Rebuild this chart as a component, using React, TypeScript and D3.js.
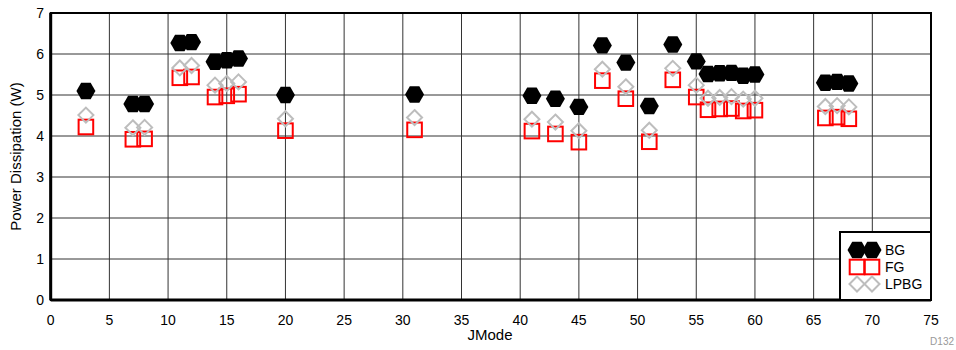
import React from "react";
import * as d3 from "d3";

const jmodes = [3, 7, 8, 11, 12, 14, 15, 16, 20, 31, 41, 43, 45, 47, 49, 51, 53, 55, 56, 57, 58, 59, 60, 66, 67, 68];
const bgValues = [5.1, 4.78, 4.78, 6.27, 6.29, 5.81, 5.85, 5.89, 5.0, 5.01, 4.98, 4.91, 4.71, 6.21, 5.79, 4.73, 6.23, 5.82, 5.51, 5.53, 5.54, 5.47, 5.5, 5.3, 5.32, 5.28];
const fgValues = [4.22, 3.92, 3.93, 5.42, 5.44, 4.95, 4.98, 5.02, 4.13, 4.15, 4.12, 4.05, 3.85, 5.35, 4.91, 3.86, 5.37, 4.95, 4.64, 4.66, 4.67, 4.61, 4.63, 4.44, 4.46, 4.42];
const lpbgValues = [4.51, 4.2, 4.21, 5.66, 5.72, 5.24, 5.28, 5.32, 4.42, 4.45, 4.41, 4.34, 4.13, 5.63, 5.2, 4.14, 5.65, 5.24, 4.92, 4.94, 4.96, 4.9, 4.92, 4.72, 4.74, 4.71];
const xTicks = [0, 5, 10, 15, 20, 25, 30, 35, 40, 45, 50, 55, 60, 65, 70, 75];
const yTicks = [0, 1, 2, 3, 4, 5, 6, 7];

const W = 956, H = 350;
const L = 50.7, R = 931, T = 13, B = 300;
const font = "'Liberation Sans', Arial, sans-serif";

const x = d3.scaleLinear().domain([0, 75]).range([L, R]);
const y = d3.scaleLinear().domain([0, 7]).range([B, T]);

const hexPath = (r: number) => {
  const pts = d3.range(6).map((i) => {
    const a = (Math.PI / 3) * i;
    return [r * Math.cos(a), r * Math.sin(a)];
  });
  return d3.line()(pts as [number, number][]) + "Z";
};
const HEX = hexPath(9.5);
const SQ = 7.3;
const DI = 7.5;
const diamondPath = `M0,${-DI}L${DI},0L0,${DI}L${-DI},0Z`;

const Hex = ({ cx, cy }: { cx: number; cy: number }) => (
  <path d={HEX} transform={`translate(${cx},${cy})`} fill="#000" />
);
const Sq = ({ cx, cy }: { cx: number; cy: number }) => (
  <rect x={cx - SQ} y={cy - SQ} width={SQ * 2} height={SQ * 2} fill="none" stroke="#ff0000" strokeWidth={2} />
);
const Di = ({ cx, cy }: { cx: number; cy: number }) => (
  <path d={diamondPath} transform={`translate(${cx},${cy})`} fill="none" stroke="#bdbdbd" strokeWidth={2} />
);

export default function App() {
  const lx = 840, ly = 232, lw = 91, lh = 68;
  const rows = [250, 267, 284];
  return (
    <svg width={W} height={H} style={{ position: "absolute", left: 0, top: 0, background: "#fff" }} fontFamily={font}>
      {xTicks.map((t) => (
        <line key={"gx" + t} x1={x(t)} x2={x(t)} y1={T} y2={B} stroke="#333" strokeWidth={1} />
      ))}
      {yTicks.map((t) => (
        <line key={"gy" + t} x1={L} x2={R} y1={y(t)} y2={y(t)} stroke="#333" strokeWidth={1} />
      ))}
      {jmodes.map((j, i) => (
        <Hex key={"bg" + i} cx={x(j)} cy={y(bgValues[i])} />
      ))}
      {jmodes.map((j, i) => (
        <Sq key={"fg" + i} cx={x(j)} cy={y(fgValues[i])} />
      ))}
      {jmodes.map((j, i) => (
        <Di key={"lp" + i} cx={x(j)} cy={y(lpbgValues[i])} />
      ))}
      <rect x={L} y={T} width={R - L} height={B - T} fill="none" stroke="#000" strokeWidth={2} />
      <line x1={L} x2={L} y1={T} y2={B} stroke="#000" strokeWidth={3} />
      <line x1={L} x2={R} y1={B} y2={B} stroke="#000" strokeWidth={3} />
      {yTicks.map((t) => (
        <text key={"ty" + t} x={44} y={y(t) + 5} textAnchor="end" fontSize={14} fill="#000">{t}</text>
      ))}
      {xTicks.map((t) => (
        <text key={"tx" + t} x={x(t)} y={325} textAnchor="middle" fontSize={14} fill="#000">{t}</text>
      ))}
      <text x={490} y={340} textAnchor="middle" fontSize={15} fill="#000">JMode</text>
      <text transform={`translate(21,${(T + B) / 2}) rotate(-90)`} textAnchor="middle" fontSize={15} fill="#000">Power Dissipation (W)</text>
      <text x={954} y={345} textAnchor="end" fontSize={10} fill="#999">D132</text>
      <rect x={lx} y={ly} width={lw} height={lh} fill="#fff" stroke="#000" strokeWidth={2} />
      <Hex cx={857} cy={rows[0]} />
      <Hex cx={872} cy={rows[0]} />
      <Sq cx={857} cy={rows[1]} />
      <Sq cx={872} cy={rows[1]} />
      <Di cx={857} cy={rows[2]} />
      <Di cx={872} cy={rows[2]} />
      <text x={885} y={rows[0] + 5} fontSize={14} fill="#000">BG</text>
      <text x={885} y={rows[1] + 5} fontSize={14} fill="#000">FG</text>
      <text x={885} y={rows[2] + 5} fontSize={14} fill="#000">LPBG</text>
    </svg>
  );
}
